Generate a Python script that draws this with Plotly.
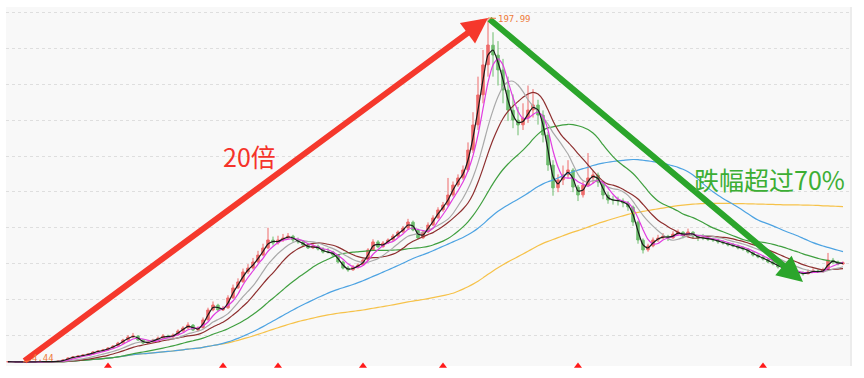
import pandas as pd
import plotly.graph_objects as go

# ---- data ----
opens = [4.6, 4.6, 4.55, 4.5, 4.45, 4.5, 4.55, 4.6, 4.6, 4.65, 4.7,
         4.9, 5.6, 6.7, 7.3, 7.8, 8.5, 8.9, 10.1, 10.7, 11.2, 12.3, 13.5, 15.1, 16.8, 18.6, 19.0, 16.8, 15.1, 15.8,
         16.9, 18.0, 19.1, 18.5, 19.7, 21.9, 23.6, 25.2, 22.4, 23.7, 28.2, 33.8, 36.4, 33.7, 34.9, 40.6, 46.2, 49.6, 55.2,
         57.4, 60.8, 64.7, 68.7, 73.0, 71.5, 73.2, 74.3, 75.2, 73.0, 72.0, 70.3, 68.7, 69.6, 68.0, 66.4, 66.3, 64.5, 60.7,
         57.3, 56.3, 57.9, 59.1, 61.9, 67.6, 72.0, 69.3, 71.5, 73.2, 75.4, 77.7, 79.9, 83.1, 78.6, 74.3, 77.7, 81.6, 85.6,
         90.1, 92.9, 98.5, 104.1, 108.1, 112.6, 123.8, 137.9, 154.8, 171.7, 182.7, 177.1, 168.7, 157.4, 146.1, 140.5, 137.9,
         141.8, 146.3, 149.0, 143.3, 132.1, 115.2, 102.5, 107.0, 109.8, 112.4, 102.8, 98.5, 104.1, 108.1, 109.6, 105.6, 98.3,
         95.7, 95.6, 95.0, 93.8, 91.6, 83.1, 73.0, 67.6, 69.8, 73.2, 74.3, 75.2, 74.3, 76.5, 77.5, 75.4, 77.5, 75.2, 74.3,
         74.1, 73.5, 73.0, 72.1, 71.3, 70.4, 69.6, 68.7, 67.9, 66.2, 64.5, 63.4, 62.3, 60.8, 59.5, 57.8, 56.7, 55.7, 55.0,
         54.6, 54.1, 55.2, 55.7, 55.2, 56.3, 61.7, 60.6, 59.7]
highs = [4.7, 4.7, 4.6, 4.55, 4.55, 4.6, 4.65, 4.7, 4.7, 4.8, 5.0,
         5.8, 7.0, 7.6, 8.1, 8.7, 9.3, 10.5, 11.2, 11.8, 12.8, 14.0, 15.8, 17.5, 19.6, 20.8, 19.6, 17.3, 16.4, 17.5,
         18.8, 20.2, 19.8, 20.5, 22.8, 24.6, 26.8, 25.8, 24.5, 29.5, 35.0, 38.5, 37.2, 36.0, 42.0, 48.0, 51.5, 57.0, 59.5,
         63.0, 67.0, 71.0, 80.0, 75.0, 75.5, 76.5, 77.0, 76.0, 74.5, 73.0, 71.5, 71.0, 70.5, 69.0, 68.5, 67.0, 65.0, 61.5,
         58.5, 59.0, 60.0, 62.5, 68.5, 73.5, 73.0, 72.5, 74.0, 76.5, 78.5, 81.0, 85.0, 84.0, 79.5, 78.5, 83.0, 87.0, 91.5,
         94.5, 108.0, 106.0, 110.0, 115.0, 128.0, 145.0, 165.0, 180.0, 197.99, 190.0, 185.0, 175.0, 165.0, 155.0, 148.0, 150.0,
         160.0, 158.0, 152.0, 146.0, 134.0, 118.0, 110.0, 115.0, 118.0, 113.5, 104.0, 106.0, 122.0, 112.0, 111.0, 106.5, 100.0,
         98.0, 97.5, 96.5, 95.0, 92.5, 84.0, 74.0, 71.0, 74.5, 76.0, 77.0, 76.0, 78.0, 79.0, 78.0, 79.5, 78.0, 76.0,
         76.5, 75.0, 74.5, 73.8, 73.0, 72.0, 71.5, 70.5, 69.5, 68.5, 67.0, 65.5, 64.5, 63.0, 61.5, 60.0, 58.5, 57.5, 56.5,
         56.0, 55.5, 56.5, 57.0, 56.5, 57.5, 65.8, 63.0, 61.5, 61.0]
lows = [4.5, 4.5, 4.5, 4.44, 4.45, 4.5, 4.5, 4.55, 4.55, 4.6, 4.7,
        4.9, 5.5, 6.5, 7.0, 7.6, 8.2, 8.7, 9.8, 10.3, 10.9, 12.0, 13.2, 14.8, 16.5, 18.0, 16.4, 14.6, 14.8, 15.4,
        16.5, 17.6, 18.0, 18.2, 19.4, 21.5, 23.2, 21.8, 22.0, 23.4, 27.8, 33.0, 33.0, 33.2, 34.5, 40.0, 45.5, 49.0, 54.0,
        56.5, 60.0, 64.0, 68.0, 70.0, 70.5, 72.0, 73.5, 72.0, 71.0, 69.5, 68.0, 68.0, 67.2, 65.5, 65.5, 63.8, 60.0, 56.5,
        55.2, 55.8, 57.0, 58.5, 61.5, 67.0, 68.5, 68.8, 70.8, 72.5, 74.8, 77.0, 79.2, 78.0, 73.5, 73.8, 77.0, 81.0, 85.0,
        89.0, 92.0, 97.5, 103.0, 107.0, 111.5, 122.0, 135.0, 150.0, 165.0, 165.0, 160.0, 150.0, 140.0, 136.0, 132.0, 135.0,
        139.0, 142.0, 138.0, 128.0, 112.0, 98.0, 100.0, 104.0, 108.0, 100.0, 95.0, 97.0, 103.0, 105.0, 103.0, 96.0, 93.5,
        93.0, 92.5, 91.5, 89.5, 81.0, 71.0, 65.5, 66.5, 69.0, 72.0, 73.5, 72.5, 73.8, 75.5, 74.0, 74.8, 74.0, 72.5,
        73.0, 72.5, 72.0, 71.0, 70.5, 69.5, 69.0, 67.8, 67.0, 65.5, 63.8, 62.8, 61.5, 60.0, 58.8, 57.0, 56.0, 54.8, 54.0,
        53.5, 53.0, 53.8, 54.5, 54.5, 54.8, 56.0, 59.5, 58.8, 59.0]
closes = [4.6, 4.55, 4.5, 4.45, 4.5, 4.55, 4.6, 4.6, 4.65, 4.7, 4.9,
          5.6, 6.7, 7.3, 7.8, 8.4, 8.9, 10.1, 10.6, 11.2, 12.3, 13.4, 15.1, 16.8, 18.5, 19.1, 16.8, 15.1, 15.7, 16.8,
          17.9, 19.1, 18.5, 19.6, 21.9, 23.6, 25.3, 22.4, 23.6, 28.1, 33.7, 36.5, 33.7, 34.8, 40.5, 46.1, 49.5, 55.1, 57.3,
          60.7, 64.6, 68.6, 73.1, 71.4, 73.1, 74.2, 75.3, 73.1, 72.0, 70.3, 68.6, 69.7, 68.0, 66.3, 66.3, 64.6, 60.7, 57.3,
          56.2, 57.9, 59.0, 61.8, 67.5, 72.0, 69.2, 71.4, 73.1, 75.3, 77.6, 79.8, 83.2, 78.7, 74.2, 77.6, 81.5, 85.5, 90.0,
          92.8, 98.4, 104.0, 108.0, 112.5, 123.7, 137.8, 154.7, 171.6, 182.8, 177.2, 168.8, 157.5, 146.2, 140.6, 137.8, 141.7,
          146.2, 149.1, 143.4, 132.2, 115.3, 102.4, 106.9, 109.7, 112.5, 102.9, 98.4, 104.0, 108.0, 109.7, 105.7, 98.4, 95.6,
          95.6, 95.0, 93.9, 91.7, 83.2, 73.1, 67.5, 69.7, 73.1, 74.2, 75.3, 74.2, 76.4, 77.6, 75.3, 77.6, 75.3, 74.2, 74.2,
          73.6, 73.1, 72.0, 71.4, 70.3, 69.7, 68.6, 68.0, 66.3, 64.6, 63.5, 62.4, 60.7, 59.6, 57.9, 56.8, 55.6, 55.1, 54.5,
          54.0, 55.1, 55.6, 55.1, 56.2, 61.8, 60.7, 59.6, 60.2]

ma_windows = [2, 4, 8, 12, 23, 43, 90]
ma_colors = ["#1a1a1a", "#e03ce0", "#a9a9a9", "#8e2f2f", "#3f9f3f", "#4da3e2", "#f6c24a"]

signal_idx = [20, 43, 54, 71, 87, 114, 151]
drop_end_idx = 159
drop_end_price = 49.5

rise_label = "20倍"
drop_label = "跌幅超过70%"

# ---- figure ----
n = len(closes)
idx = list(range(n))
cl = pd.Series(closes)

fig = go.Figure()
fig.add_trace(go.Candlestick(
    x=idx, open=opens, high=highs, low=lows, close=closes,
    increasing=dict(line=dict(color="#ee6a6a", width=1), fillcolor="#ee6a6a"),
    decreasing=dict(line=dict(color="#6cbc6c", width=1), fillcolor="#6cbc6c"),
    whiskerwidth=0, showlegend=False, hoverinfo="skip"))

for w, c in zip(ma_windows[::-1], ma_colors[::-1]):
    ma = cl.rolling(w, min_periods=1).mean()
    fig.add_trace(go.Scatter(x=idx, y=ma, mode="lines",
                             line=dict(color=c, width=1.2, shape="spline", smoothing=0.6),
                             showlegend=False, hoverinfo="skip"))

fig.add_trace(go.Scatter(x=signal_idx, y=[2.2] * len(signal_idx), mode="markers",
                         marker=dict(symbol="triangle-up", size=7, color="#ff1a1a"),
                         cliponaxis=False, showlegend=False, hoverinfo="skip"))

lo_i = min(range(n), key=lambda i: lows[i])
hi_i = max(range(n), key=lambda i: highs[i])

ann = []
# red rise arrow
ann.append(dict(x=hi_i, y=highs[hi_i], ax=lo_i, ay=lows[lo_i], xref="x", yref="y",
                axref="x", ayref="y", showarrow=True, arrowhead=2, arrowsize=0.85,
                arrowwidth=6, arrowcolor="#f5382c", text=""))
# green drop arrow
ann.append(dict(x=drop_end_idx, y=drop_end_price, ax=hi_i, ay=highs[hi_i], xref="x", yref="y",
                axref="x", ayref="y", showarrow=True, arrowhead=2, arrowsize=0.85,
                arrowwidth=6, arrowcolor="#2ba52b", text=""))
# price labels
ann.append(dict(x=hi_i, y=highs[hi_i], xref="x", yref="y", text=f"{highs[hi_i]:.2f}",
                showarrow=True, arrowhead=0, arrowwidth=1, arrowcolor="#ee7a3a",
                ax=26, ay=1, font=dict(family="DejaVu Sans Mono", size=9, color="#ee7a3a")))
ann.append(dict(x=lo_i, y=lows[lo_i], xref="x", yref="y", text=f"{lows[lo_i]:.2f}",
                showarrow=True, arrowhead=0, arrowwidth=1, arrowcolor="#ee7a3a",
                ax=20, ay=-4, font=dict(family="DejaVu Sans Mono", size=9, color="#ee7a3a")))
# big texts
ann.append(dict(x=0.289, y=0.585, xref="paper", yref="paper", text=rise_label, showarrow=False,
                xanchor="center", yanchor="middle",
                font=dict(family="Noto Sans CJK SC", size=25, color="#f5332a")))
ann.append(dict(x=0.905, y=0.522, xref="paper", yref="paper", text=drop_label, showarrow=False,
                xanchor="center", yanchor="middle",
                font=dict(family="Noto Sans CJK SC", size=25, color="#3cae34")))

fig.update_layout(
    width=864, height=378,
    margin=dict(l=6, r=14, t=7, b=12),
    paper_bgcolor="white", plot_bgcolor="#f8f8f8",
    annotations=ann,
    xaxis=dict(range=[-0.4, 168.4], showgrid=False, zeroline=False, showticklabels=False,
               rangeslider=dict(visible=False), fixedrange=True),
    yaxis=dict(range=[2.19, 204.19], showgrid=True, gridcolor="#dedede", griddash="dot",
               gridwidth=1, tick0=19.63, dtick=20.14, zeroline=False, showticklabels=False,
               side="right", showline=True, linecolor="#ececec", linewidth=2),
)

fig.write_html("out.html")
